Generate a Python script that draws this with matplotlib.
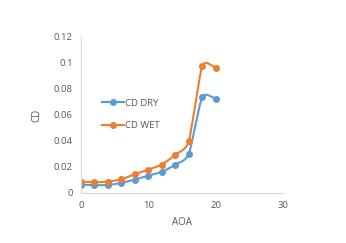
import numpy as np
import matplotlib
matplotlib.use("Agg")
import matplotlib.pyplot as plt

aoa = [0, 2, 4, 6, 8, 10, 12, 14, 16, 18, 20]
cd_dry = [0.0064, 0.0059, 0.0062, 0.0077, 0.0103, 0.0133, 0.0162, 0.0218, 0.0300, 0.0736, 0.0726]
cd_wet = [0.0087, 0.0082, 0.0087, 0.0105, 0.0144, 0.0180, 0.0218, 0.0295, 0.0397, 0.0974, 0.0964]


def smooth(x, y, n=20, k=9.0):
    # bezier curve through the points, like Excel's smoothed line
    x = np.asarray(x, float)
    y = np.asarray(y, float)
    px = np.concatenate([[2 * x[0] - x[1]], x, [2 * x[-1] - x[-2]]])
    py = np.concatenate([[2 * y[0] - y[1]], y, [2 * y[-1] - y[-2]]])
    xs, ys = [], []
    t = np.linspace(0, 1, n)
    for i in range(1, len(px) - 2):
        for p, out in ((px, xs), (py, ys)):
            p0, p1, p2, p3 = p[i - 1], p[i], p[i + 1], p[i + 2]
            c1 = p1 + (p2 - p0) / k
            c2 = p2 - (p3 - p1) / k
            out.extend((1 - t) ** 3 * p1 + 3 * (1 - t) ** 2 * t * c1
                       + 3 * (1 - t) * t ** 2 * c2 + t ** 3 * p2)
    return xs, ys


plt.rcParams['font.family'] = ['Open Sans', 'DejaVu Sans']

fig = plt.figure(figsize=(3.46, 2.43), dpi=100)
ax = fig.add_axes([0.234, 0.206, 0.584, 0.642])

for y, c, lab in ((cd_dry, '#5B9BD5', 'CD DRY'), (cd_wet, '#ED7D31', 'CD WET')):
    sx, sy = smooth(aoa, y)
    ax.plot(sx, sy, color=c, lw=1.5, solid_capstyle='round')
    ax.plot(aoa, y, 'o', color=c, ms=4)
    ax.plot([], [], '-o', color=c, lw=1.5, ms=4, label=lab)

ax.set_xlim(0, 30)
ax.set_ylim(0, 0.12)
ax.set_xticks([0, 10, 20, 30])
ax.set_yticks([0, 0.02, 0.04, 0.06, 0.08, 0.1, 0.12])
ax.set_yticklabels(['0', '0.02', '0.04', '0.06', '0.08', '0.1', '0.12'])
ax.tick_params(length=0, labelsize=6.8, colors='#595959', pad=6)
for s in ('top', 'right'):
    ax.spines[s].set_visible(False)
for s in ('left', 'bottom'):
    ax.spines[s].set_color('#d9d9d9')
    ax.spines[s].set_linewidth(0.8)
ax.set_xlabel('AOA', fontsize=7, color='#595959', labelpad=5)
ax.set_ylabel('CD', fontsize=7, color='#595959', labelpad=8)

ax.legend(loc='upper left', bbox_to_anchor=(0.08, 0.635), frameon=False,
          fontsize=6.8, labelcolor='#595959', handlelength=2.3,
          handletextpad=0.2, labelspacing=1.45, borderpad=0)

fig.savefig('out.png', dpi=100)
